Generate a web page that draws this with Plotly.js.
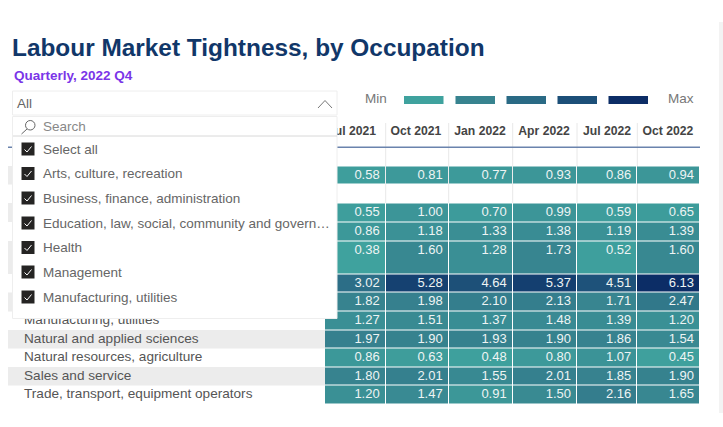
<!DOCTYPE html>
<html><head><meta charset="utf-8">
<script src="https://cdn.plot.ly/plotly-3.0.1.min.js"></script>
<style>html,body{margin:0;padding:0;background:#fff}#c{width:723px;height:427px}</style>
</head><body><div id="c"></div>
<script>
// ---- data ----
const months = ["Jul 2021","Oct 2021","Jan 2022","Apr 2022","Jul 2022","Oct 2022"];
const rowLabels = ["","","","","","","","","Manufacturing, utilities","Natural and applied sciences","Natural resources, agriculture","Sales and service","Trade, transport, equipment operators"];
const r00 = [null,null,null,null,null,null];
const r01 = [0.58,0.81,0.77,0.93,0.86,0.94];
const r02 = [null,null,null,null,null,null];
const r03 = [0.55,1.00,0.70,0.99,0.59,0.65];
const r04 = [0.86,1.18,1.33,1.38,1.19,1.39];
const r05 = [0.38,1.60,1.28,1.73,0.52,1.60];
const r06 = [3.02,5.28,4.64,5.37,4.51,6.13];
const r07 = [1.82,1.98,2.10,2.13,1.71,2.47];
const r08 = [1.27,1.51,1.37,1.48,1.39,1.20];
const r09 = [1.97,1.90,1.93,1.90,1.86,1.54];
const r10 = [0.86,0.63,0.48,0.80,1.07,0.45];
const r11 = [1.80,2.01,1.55,2.01,1.85,1.90];
const r12 = [1.20,1.47,0.91,1.50,2.16,1.65];
const dropdownItems = ["Select all","Arts, culture, recreation","Business, finance, administration","Education, law, social, community and govern…","Health","Management","Manufacturing, utilities"];
const palette = ["#3fa29e","#37838f","#2a6a85","#1c4f78","#0c2d66"];

// ---- layout geometry (page pixels) ----
const colEdges = [325,385.7,448.7,512.7,577,637.3,700];
const rowEdges = [147.5,166,184.5,203,222,241,274,292.5,311.5,330,348.5,367,385.5,404];
const headerCentres = [352,416,480,544,607,668];
const checkY = [149,173.5,198,223,247.5,272,297];
const swatchX = [404,455.5,506.5,557.5,608.5];

const rows = [r00,r01,r02,r03,r04,r05,r06,r07,r08,r09,r10,r11,r12];
const zMin = 0.38, zMax = 6.13;
const scale = palette.map((c,i)=>[i/(palette.length-1),c]);
const GR = "#e8e8e8";

const valX=[],valY=[],valT=[];
rows.forEach((r,i)=>r.forEach((v,j)=>{ if(v!==null){
  valX.push(colEdges[j+1]-6); valY.push(rowEdges[i]+9.3); valT.push(v.toFixed(2)); }}));
const labX=[],labY=[],labT=[];
rowLabels.forEach((t,i)=>{ if(t){labX.push(24);labY.push(rowEdges[i]+9.6);labT.push(t);} });

const traces = [
 {type:"heatmap",x:colEdges,y:rowEdges,z:rows,zmin:zMin,zmax:zMax,colorscale:scale,showscale:false,xgap:1,ygap:1,hoverongaps:false},
 {type:"scatter",mode:"text",x:valX,y:valY,text:valT,textposition:"middle left",textfont:{family:"Liberation Sans",size:13,color:"#eef4f4"},hoverinfo:"skip",showlegend:false},
 {type:"scatter",mode:"text",x:labX,y:labY,text:labT,textposition:"middle right",textfont:{family:"Liberation Sans",size:13.6,color:"#555555"},hoverinfo:"skip",showlegend:false},
 {type:"scatter",mode:"text",x:headerCentres,y:months.map(()=>131.5),text:months.map(m=>"<b>"+m+"</b>"),textposition:"middle center",textfont:{family:"Liberation Sans",size:12.2,color:"#444444"},hoverinfo:"skip",showlegend:false}
];

const shapes = [];
const rect=(x0,y0,x1,y1,fill,line,layer)=>shapes.push({type:"rect",xref:"x",yref:"y",x0,y0,x1,y1,fillcolor:fill,line:{color:line||fill,width:line?1:0},layer:layer||"below"});
const seg=(x0,y0,x1,y1,color,w,layer)=>shapes.push({type:"line",xref:"x",yref:"y",x0,y0,x1,y1,line:{color,width:w},layer:layer||"below"});
// right scroll band
rect(719,22,723,413,"#f3f3f3");
// striped rows
[1,3,5,7,9,11].forEach(i=>rect(8,rowEdges[i],325,rowEdges[i+1],"#ececec"));
// header grid
colEdges.slice(1,-1).forEach(x=>seg(x,123,x,203,GR,1));
seg(8,147.3,700,147.3,"#6a83ad",1.5);
// legend swatches
swatchX.forEach((x,i)=>rect(x,96,x+39.5,104,palette[i]));
// dropdown
rect(12.5,91,337,115,"#ffffff","#eeeeee","above");
rect(12.5,116.5,337,318.5,"#ffffff","#eeeeee","above");
seg(13,136,337,136,"#d8d8d8",1,"above");
// chevron
seg(318,108,325,100.5,"#777777",1,"above"); seg(325,100.5,332,108,"#777777",1,"above");
// search icon
shapes.push({type:"circle",xref:"x",yref:"y",x0:25.5,y0:120.5,x1:35,y1:130,line:{color:"#666666",width:1},fillcolor:"rgba(0,0,0,0)",layer:"above"});
seg(27,129,21.5,134,"#666666",1,"above");
// check boxes
checkY.forEach(y=>{
  rect(21.5,y-6.5,34.5,y+6.5,"#252423",null,"above");
  shapes.push({type:"path",xref:"x",yref:"y",path:`M 24.5 ${y+0.5} L 27 ${y+3} L 31.5 ${y-2.5}`,line:{color:"#ffffff",width:1},fillcolor:"rgba(0,0,0,0)",layer:"above"});
});

const note=(text,x,y,size,color,anchor,bold)=>({text:bold?"<b>"+text+"</b>":text,xref:"x",yref:"y",x,y,xanchor:anchor||"left",yanchor:"middle",showarrow:false,borderpad:0,font:{family:"Liberation Sans",size,color}});
const annotations=[
 note("Quarterly, 2022 Q4",12.5,75,13.5,"#7a35e8","left",true),
 note("Min",376,98,13.5,"#777777","center"),
 note("Max",681,98,13.5,"#777777","center"),
 note("All",16,103,13.5,"#666666"),
 note("Search",41.5,126,13.5,"#888888"),
 ...dropdownItems.map((t,i)=>note(t,41.5,checkY[i],13.5,"#666666"))
];

const layout={
 width:723,height:427,margin:{l:0,r:0,t:0,b:0},paper_bgcolor:"#ffffff",plot_bgcolor:"rgba(0,0,0,0)",showlegend:false,
 title:{text:"<b>Labour Market Tightness, by Occupation</b>",x:12/723,xref:"paper",xanchor:"left",y:1-47.5/427,yref:"paper",yanchor:"middle",pad:{l:0,r:0,t:0,b:0},font:{family:"Liberation Sans",size:24.4,color:"#113769"}},
 xaxis:{range:[0,723],visible:false,fixedrange:true},
 yaxis:{range:[427,0],visible:false,fixedrange:true},
 shapes,annotations
};
Plotly.newPlot("c",traces,layout,{displayModeBar:false,staticPlot:true});
</script></body></html>
